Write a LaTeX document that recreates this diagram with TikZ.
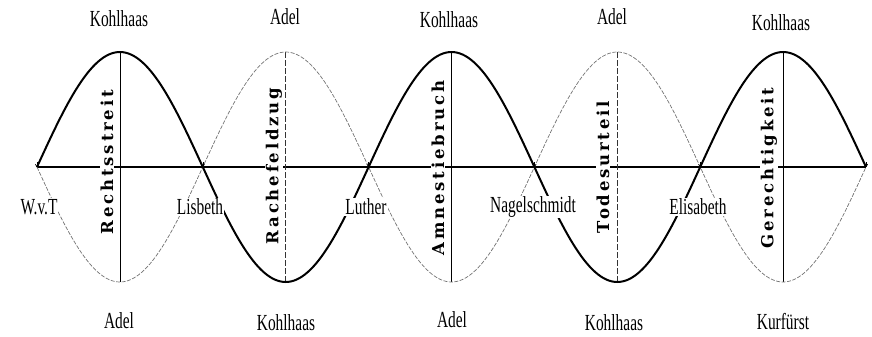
\documentclass[tikz,border=0pt]{standalone}
\usepackage{fontspec}
\setmainfont{Liberation Serif}
\newfontfamily\condfont[FakeStretch=0.67]{Liberation Serif}
\newfontfamily\vertfont[LetterSpace=17]{DejaVu Serif}
\usetikzlibrary{arrows.meta}
\tikzset{
  lab/.style={font=\condfont\fontsize{23}{25}\selectfont, inner sep=1pt},
  axlab/.style={lab, fill=white},
  vlab/.style={rotate=90, fill=white, inner sep=0.5pt, font=\vertfont\bfseries\fontsize{16.5}{18}\selectfont},
  axisline/.style={line width=1.3pt, black},
  vsolid/.style={line width=0.7pt, black},
  vdash/.style={line width=0.7pt, black!80, dash pattern=on 6pt off 2pt},
  kohl/.style={line width=2pt, black},
  adel/.style={line width=0.7pt, black!55, dash pattern=on 4pt off 1.5pt},
  tipmark/.style={line width=0.6pt, -{To[length=3pt,width=4pt]}}
}
\begin{document}
\begin{tikzpicture}[x=1pt,y=-1pt]
\useasboundingbox (0,0) rectangle (872,337);
\foreach \i in {0,...,5} \coordinate (c\i) at ({37+\i*165.8},167);
\foreach \i in {1,...,5} {
  \coordinate (p\i) at ({37+(\i-0.5)*165.8},52);
  \coordinate (q\i) at ({37+(\i-0.5)*165.8},282);
}
\draw[axisline] (c0) -- (c5);
\draw[vsolid] (p1) -- (q1);
\draw[vdash] (p2) -- (q2);
\draw[vsolid] (p3) -- (q3);
\draw[vdash] (p4) -- (q4);
\draw[vsolid] (p5) -- (q5);
\draw[adel] plot[domain=37:866, samples=301] (\x,{167+115*sin((\x-37)*1.085645)});
\draw[kohl] plot[domain=37:866, samples=301] (\x,{167-115*sin((\x-37)*1.085645)});
\foreach \i in {0,...,5} \draw[tipmark] ([yshift=5pt]c\i) -- (c\i);
% top labels
\node[lab] (t1) at (119,19) {Kohlhaas};
\node[lab] (t2) at (285,17) {Adel};
\node[lab] (t3) at (449,20) {Kohlhaas};
\node[lab] (t4) at (612,17) {Adel};
\node[lab] (t5) at (781,23) {Kohlhaas};
% bottom labels
\node[lab] (b1) at (119,321) {Adel};
\node[lab] (b2) at (286,323) {Kohlhaas};
\node[lab] (b3) at (452,320) {Adel};
\node[lab] (b4) at (614,323) {Kohlhaas};
\node[lab] (b5) at (783,322) {Kurfürst};
% axis labels
\node[axlab] (w)  at (39,207)  {W.v.T};
\node[axlab] (li) at (200,207) {Lisbeth};
\node[axlab] (lu) at (366,207) {Luther};
\node[axlab] (na) at (533,207) {Nagelschmidt};
\node[axlab] (el) at (698,207) {Elisabeth};
% vertical labels
\node[vlab] (v1) at (107,162) {Rechtsstreit};
\node[vlab] (v2) at (274,166) {Rachefeldzug};
\node[vlab] (v3) at (438,168) {Amnestiebruch};
\node[vlab] (v4) at (603,167) {Todesurteil};
\node[vlab] (v5) at (769,168) {Gerechtigkeit};
\end{tikzpicture}
\end{document}
